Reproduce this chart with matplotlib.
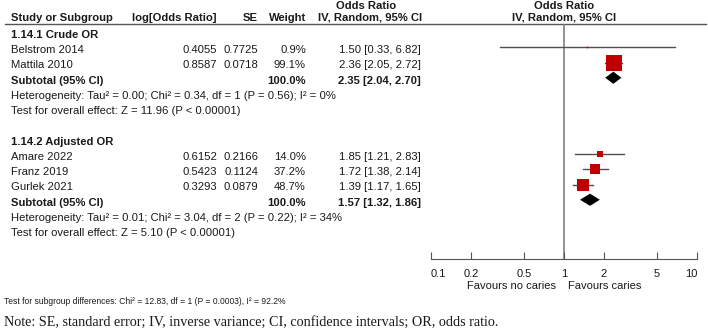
import numpy as np
import matplotlib.pyplot as plt
from matplotlib.ticker import FixedLocator, FixedFormatter

# study data
studies = ["Belstrom 2014", "Mattila 2010", "Amare 2022", "Franz 2019", "Gurlek 2021"]
groups = [0, 0, 1, 1, 1]
log_or = [0.4055, 0.8587, 0.6152, 0.5423, 0.3293]
se = [0.7725, 0.0718, 0.2166, 0.1124, 0.0879]
weights = [0.9, 99.1, 14.0, 37.2, 48.7]
odds = [1.50, 2.36, 1.85, 1.72, 1.39]
ci_lo = [0.33, 2.05, 1.21, 1.38, 1.17]
ci_hi = [6.82, 2.72, 2.83, 2.14, 1.65]

# subgroup data
group_names = ["1.14.1 Crude OR", "1.14.2 Adjusted OR"]
sub_or = [2.35, 1.57]
sub_lo = [2.04, 1.32]
sub_hi = [2.70, 1.86]
heterogeneity = ["Heterogeneity: Tau\u00b2 = 0.00; Chi\u00b2 = 0.34, df = 1 (P = 0.56); I\u00b2 = 0%",
                 "Heterogeneity: Tau\u00b2 = 0.01; Chi\u00b2 = 3.04, df = 2 (P = 0.22); I\u00b2 = 34%"]
overall = ["Test for overall effect: Z = 11.96 (P < 0.00001)",
           "Test for overall effect: Z = 5.10 (P < 0.00001)"]

ticks = [0.1, 0.2, 0.5, 1, 2, 5, 10]
tick_labels = ["0.1", "0.2", "0.5", "1", "2", "5", "10"]

plt.rcParams['font.family'] = ['Liberation Sans', 'DejaVu Sans']
TXT = "#1a1a1a"
RED = "#c00000"
FS = 8.1

W, H = 708, 328
fig = plt.figure(figsize=(W / 100, H / 100), dpi=100)

# text layer in pixel coordinates
tax = fig.add_axes([0, 0, 1, 1])
tax.set_xlim(0, W)
tax.set_ylim(H, 0)
tax.axis("off")

ROW0, STEP = 32, 15.25


def ypx(r):
    return ROW0 + STEP * r + 3


def put(x, r, s, ha="left", bold=False):
    tax.text(x, ypx(r), s, ha=ha, va="center", fontsize=FS, color=TXT,
             fontweight="bold" if bold else "normal")


# headers
tax.text(366, 6, "Odds Ratio", ha="center", va="center", fontsize=FS, fontweight="bold", color=TXT)
tax.text(564, 6, "Odds Ratio", ha="center", va="center", fontsize=FS, fontweight="bold", color=TXT)
hy = 18
tax.text(11, hy, "Study or Subgroup", ha="left", va="center", fontsize=FS, fontweight="bold", color=TXT)
tax.text(217, hy, "log[Odds Ratio]", ha="right", va="center", fontsize=FS, fontweight="bold", color=TXT)
tax.text(258, hy, "SE", ha="right", va="center", fontsize=FS, fontweight="bold", color=TXT)
tax.text(306, hy, "Weight", ha="right", va="center", fontsize=FS, fontweight="bold", color=TXT)
tax.text(370, hy, "IV, Random, 95% CI", ha="center", va="center", fontsize=FS, fontweight="bold", color=TXT)
tax.text(564, hy, "IV, Random, 95% CI", ha="center", va="center", fontsize=FS, fontweight="bold", color=TXT)
tax.plot([5, 706], [24, 24], color="#555555", lw=1)

# row layout
study_rows = []
sub_rows = []
r = 0
for g in range(len(group_names)):
    put(11, r, group_names[g], bold=True)
    r += 1
    idx = [i for i in range(len(studies)) if groups[i] == g]
    for i in idx:
        study_rows.append(r)
        put(11, r, studies[i])
        put(217, r, "%.4f" % log_or[i], ha="right")
        put(258, r, "%.4f" % se[i], ha="right")
        put(306, r, "%.1f%%" % weights[i], ha="right")
        put(421, r, "%.2f [%.2f, %.2f]" % (odds[i], ci_lo[i], ci_hi[i]), ha="right")
        r += 1
    sub_rows.append(r)
    put(11, r, "Subtotal (95% CI)", bold=True)
    put(306, r, "100.0%", ha="right", bold=True)
    put(421, r, "%.2f [%.2f, %.2f]" % (sub_or[g], sub_lo[g], sub_hi[g]), ha="right", bold=True)
    r += 1
    put(11, r, heterogeneity[g])
    r += 1
    put(11, r, overall[g])
    r += 2

tax.text(563 - 7, 286, "Favours no caries", ha="right", va="center", fontsize=8, color=TXT)
tax.text(563 + 5, 286, "Favours caries", ha="left", va="center", fontsize=8, color=TXT)
tax.text(4, 302, "Test for subgroup differences: Chi\u00b2 = 12.83, df = 1 (P = 0.0003), I\u00b2 = 92.2%",
         ha="left", va="center", fontsize=6.15, color=TXT)
tax.text(4, 322, "Note: SE, standard error; IV, inverse variance; CI, confidence intervals; OR, odds ratio.",
         ha="left", va="center", fontsize=10.2, color=TXT, family="Liberation Serif")

# forest plot axes
x0, x1, ytop, ybot = 431, 697, 24, 259
ax = fig.add_axes([x0 / W, (H - ybot) / H, (x1 - x0) / W, (ybot - ytop) / H])
ax.patch.set_alpha(0)
ax.set_xscale("log")
ax.set_xlim(0.1, 10)
ax.set_ylim((ybot - ROW0) / STEP, (ytop - ROW0) / STEP)
for s in ["left", "right", "top"]:
    ax.spines[s].set_visible(False)
ax.spines["bottom"].set_color("#555555")
ax.set_yticks([])
ax.xaxis.set_major_locator(FixedLocator(ticks))
ax.xaxis.set_major_formatter(FixedFormatter(tick_labels))
ax.xaxis.set_minor_locator(FixedLocator([]))
ax.tick_params(axis="x", direction="in", length=5, color="#555555", labelsize=8,
               labelcolor=TXT, pad=7)
lbls = ax.get_xticklabels()
lbls[0].set_horizontalalignment("left")
lbls[-1].set_horizontalalignment("right")

ax.axvline(1, color="#808080", lw=1.2, zorder=1)

for k, i in enumerate(range(len(studies))):
    rr = study_rows[k]
    ax.plot([ci_lo[i], ci_hi[i]], [rr, rr], color="#505050", lw=1, zorder=2)
    side = 17 * np.sqrt(weights[i] / 100.0)
    ax.plot(odds[i], rr, marker="s", ms=side * 0.72, color=RED, mec=RED, mew=0, zorder=3)

for g in range(len(group_names)):
    rr = sub_rows[g]
    h = 0.4
    ax.fill([sub_lo[g], sub_or[g], sub_hi[g], sub_or[g]], [rr, rr - h, rr, rr + h],
            color="black", lw=0, zorder=3)

fig.savefig("out.png", dpi=100)
